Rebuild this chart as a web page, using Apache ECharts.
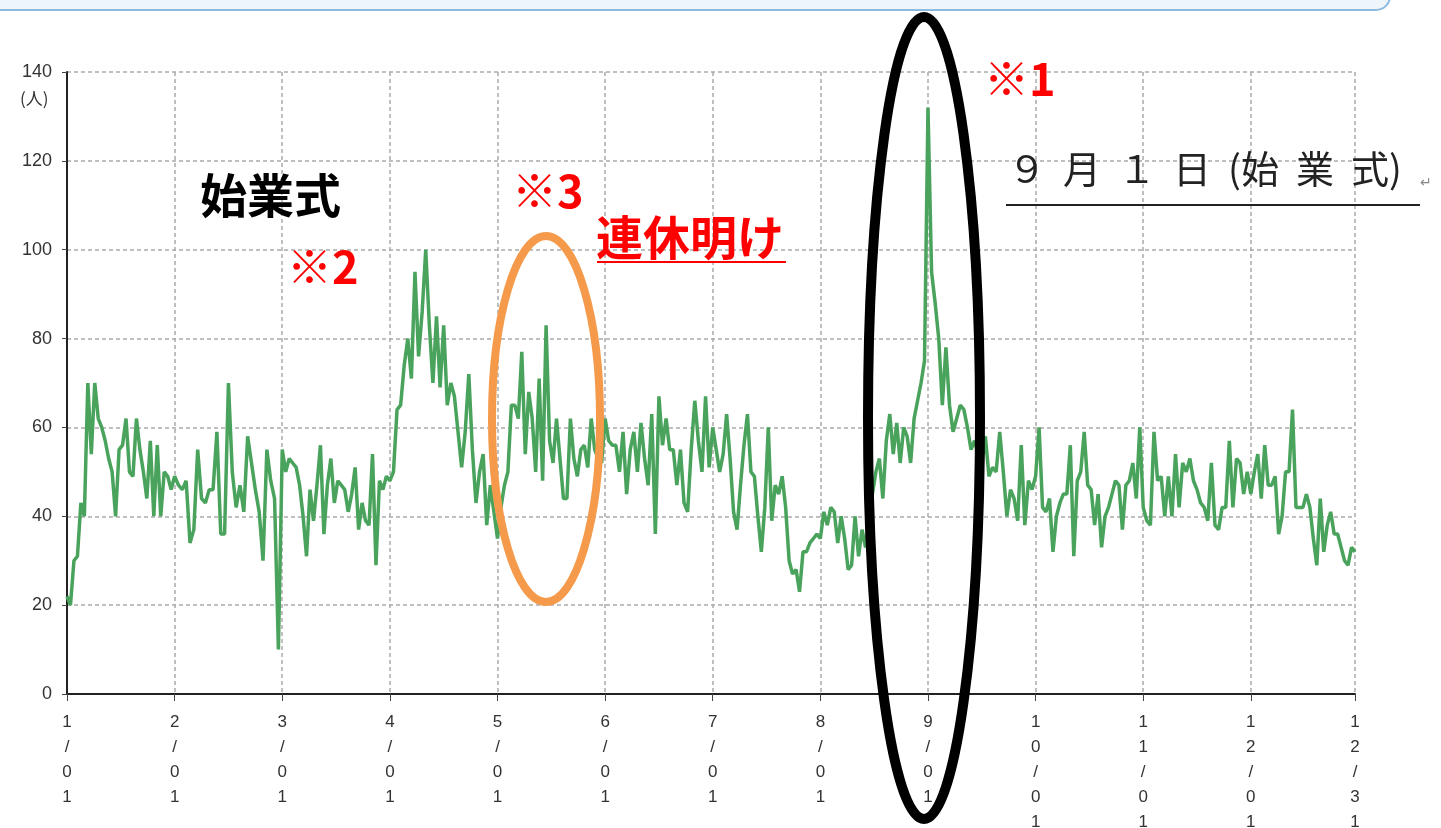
<!DOCTYPE html>
<html>
<head>
<meta charset="utf-8">
<script src="https://cdn.jsdelivr.net/npm/echarts@6/dist/echarts.min.js"></script>
<style>
  html, body { margin: 0; padding: 0; background: #fff; }
  #main { width: 1441px; height: 828px; }
</style>
</head>
<body>
<div id="main"></div>
<script>
// 日別の人数（月ごと）
const jan = [22,20,30,31,43,40,70,54,70,62,60,57,53,50,40,55,56,62,50,49,62,55,50,44,57,40,56,40,50,49,46]
const feb = [49,47,46,48,34,37,55,44,43,46,46,59,36,36,70,50,42,47,41,58,52,46,41,30,55,48,44,10]
const mar = [55,50,53,52,51,47,40,31,46,39,47,56,36,47,53,43,48,47,46,41,45,51,37,43,39,38,54,29,48,46,49]
const apr = [48,50,64,65,74,80,71,95,76,86,100,83,70,85,69,83,65,70,67,59,51,59,72,55,43,50,54,38,47,41]
const may = [35,42,47,50,65,65,62,77,54,68,62,50,71,48,83,57,52,62,53,44,44,62,53,49,55,56,51,62,55,53,52]
const jun = [62,57,56,56,50,59,45,55,59,50,61,53,47,63,36,67,56,62,55,55,47,55,43,41,55,66,57,50,67,51]
const jul = [60,55,50,54,63,53,41,37,47,56,63,50,49,40,32,42,60,39,47,45,49,42,30,27,28,23,32,32,34,35,36]
const aug = [35,41,38,42,41,34,40,35,28,29,40,31,37,33,38,45,50,53,44,57,63,54,61,52,60,58,52,62,66,70,75]
const sep = [132,95,88,80,65,78,65,59,62,65,64,60,55,57,54,52,58,49,51,50,59,50,40,46,44,39,56,38,48,46]
const oct = [49,60,42,41,44,32,40,43,45,45,56,31,48,50,59,47,46,38,45,33,40,42,45,48,47,37,47,48,52,44,60]
const nov = [42,39,38,59,48,49,40,49,40,54,42,52,50,53,48,46,43,42,39,52,38,37,42,42,57,42,53,52,45,50]
const dec = [45,50,54,44,56,47,47,49,36,40,50,50,64,42,42,42,45,42,35,29,44,32,38,41,36,36,33,30,29,33,32]

const months = [jan, feb, mar, apr, may, jun, jul, aug, sep, oct, nov, dec]
// x軸の目盛ラベル（各月1日と12/31）
const tickLabels = ['1/01','2/01','3/01','4/01','5/01','6/01','7/01','8/01','9/01','10/01','11/01','12/01','12/31']
const yTicks = [0, 140, 20]

// 月の幅は等間隔なので、x = 月番号 + 日/月の日数
const seriesData = []
months.forEach((arr, m) => {
  arr.forEach((v, d) => {
    seriesData.push([m + d / arr.length, v])
  })
})
const xMax = 11 + 30 / 31

const chartDom = document.getElementById('main')
const myChart = echarts.init(chartDom)

const jp = '"Noto Sans CJK JP", "Noto Sans", sans-serif'

const option = {
  animation: false,
  grid: {
    left: 67,
    right: 86,
    top: 72,
    bottom: 134,
    containLabel: false,
    outerBoundsMode: 'none'
  },
  xAxis: {
    type: 'value',
    min: 0,
    max: xMax,
    interval: 1,
    axisLine: { show: true, lineStyle: { color: '#222', width: 2 } },
    axisTick: { show: true, length: 7, lineStyle: { color: '#444' } },
    axisLabel: {
      showMaxLabel: true,
      showMinLabel: true,
      margin: 16,
      color: '#333',
      fontSize: 17,
      lineHeight: 25,
      fontFamily: 'Liberation Sans, Arial, sans-serif',
      formatter(value) {
        const idx = Math.abs(value - Math.round(value)) < 1e-6 ? Math.round(value) : tickLabels.length - 1
        return tickLabels[idx].split('').join('\n')
      }
    },
    splitLine: {
      show: true,
      lineStyle: { type: [4, 3], color: '#aaa', width: 1.5 }
    }
  },
  yAxis: {
    type: 'value',
    min: yTicks[0],
    max: yTicks[1],
    interval: yTicks[2],
    axisLine: { show: true, lineStyle: { color: '#222', width: 2 } },
    axisTick: { show: true, length: 5, lineStyle: { color: '#444' } },
    axisLabel: {
      color: '#333',
      fontSize: 18,
      margin: 15,
      fontFamily: 'Liberation Sans, Arial, sans-serif'
    },
    splitLine: {
      show: true,
      lineStyle: { type: [4, 3], color: '#aaa', width: 1.5 }
    }
  },
  series: [
    {
      name: '人数',
      type: 'line',
      data: seriesData,
      showSymbol: false,
      smooth: false,
      lineStyle: { color: '#4aa35c', width: 3.5 },
      z: 3
    }
  ],
  graphic: [
    // 上部の枠
    {
      type: 'rect',
      shape: { x: -30, y: -80, width: 1420, height: 90, r: 14 },
      style: { fill: '#eef6fb', stroke: '#8dbbe0', lineWidth: 2 },
      z: 1
    },
    {
      type: 'text', x: 20, y: 90,
      style: { text: '(人)', fill: '#333', font: '17px ' + jp }
    },
    // 楕円
    {
      type: 'ellipse',
      shape: { cx: 546, cy: 419, rx: 54, ry: 183 },
      style: { fill: 'none', stroke: '#f59a4a', lineWidth: 8 },
      z: 10
    },
    {
      type: 'ellipse',
      shape: { cx: 924, cy: 418, rx: 56, ry: 401 },
      style: { fill: 'none', stroke: '#000', lineWidth: 10 },
      z: 10
    },
    // 注記
    {
      type: 'text', x: 984, y: 56,
      style: { text: '※1', fill: '#ff0000', font: 'bold 45px ' + jp },
      z: 11
    },
    {
      type: 'text', x: 1008, y: 150,
      style: { text: '９  月  １  日  (始  業  式)', fill: '#222', font: '38px ' + jp },
      z: 11
    },
    {
      type: 'text', x: 1420, y: 175,
      style: { text: '↵', fill: '#888', font: '14px ' + jp },
      z: 11
    },
    {
      type: 'line',
      shape: { x1: 1006, y1: 205, x2: 1420, y2: 205 },
      style: { stroke: '#222', lineWidth: 2 },
      z: 11
    },
    {
      type: 'text', x: 200, y: 172,
      style: { text: '始業式', fill: '#000', font: 'bold 47px ' + jp },
      z: 11
    },
    {
      type: 'text', x: 287, y: 244,
      style: { text: '※2', fill: '#ff0000', font: 'bold 45px ' + jp },
      z: 11
    },
    {
      type: 'text', x: 512, y: 168,
      style: { text: '※3', fill: '#ff0000', font: 'bold 45px ' + jp },
      z: 11
    },
    {
      type: 'text', x: 596, y: 214,
      style: { text: '連休明け', fill: '#ff0000', font: 'bold 47px ' + jp },
      z: 11
    },
    {
      type: 'line',
      shape: { x1: 597, y1: 262, x2: 786, y2: 262 },
      style: { stroke: '#ff0000', lineWidth: 2 },
      z: 11
    }
  ]
}

myChart.setOption(option)
</script>
</body>
</html>
